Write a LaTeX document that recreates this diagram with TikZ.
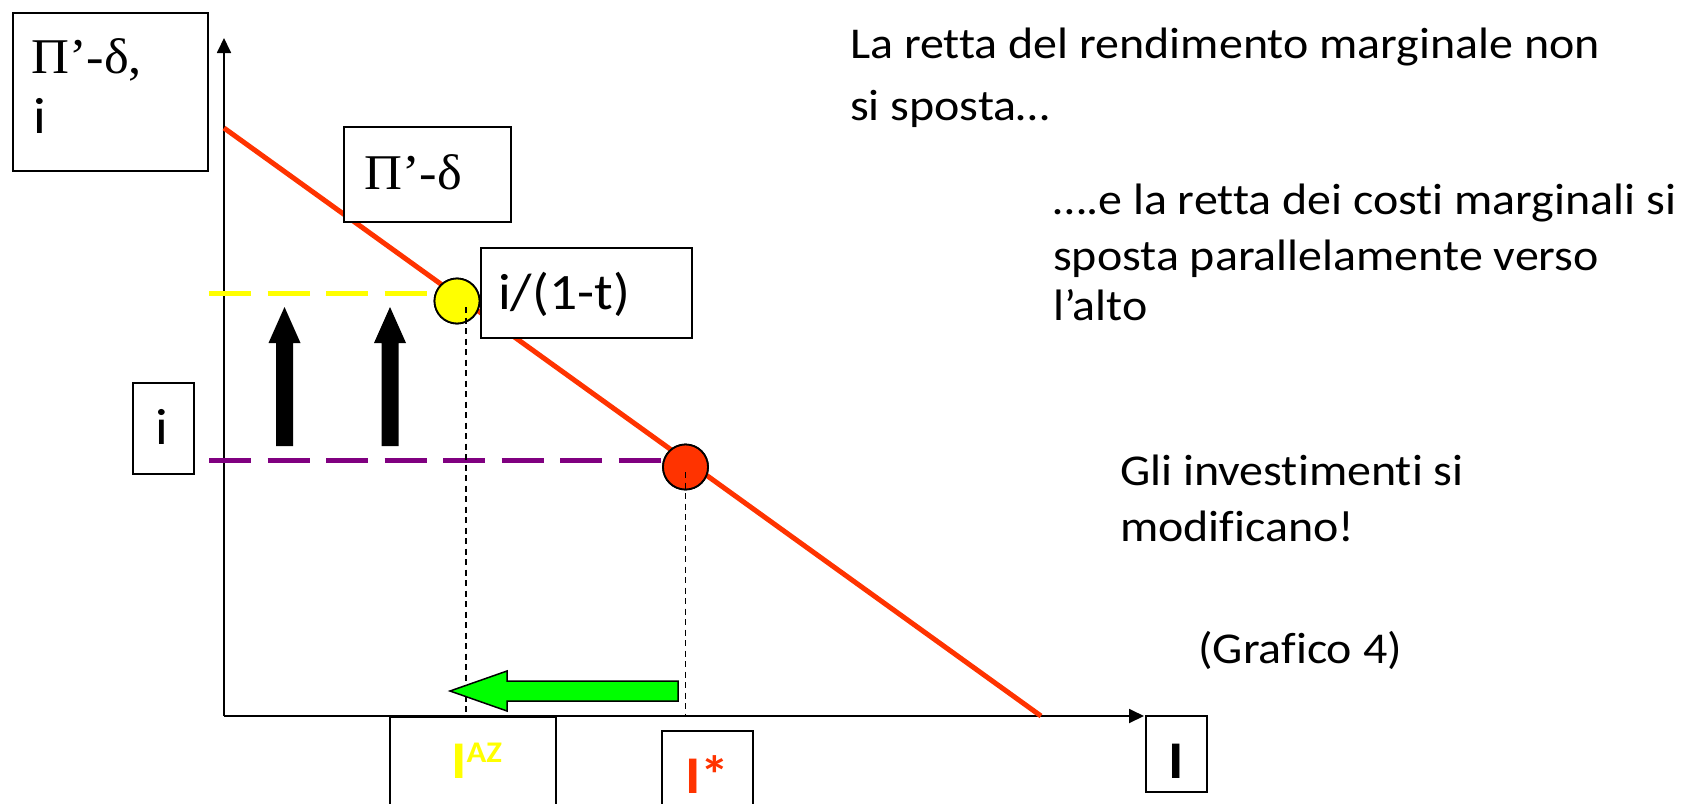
\documentclass[tikz,border=0pt]{standalone}
\usepackage{fontspec}
\setmainfont{Carlito}[FakeStretch=1.09, Ligatures=NoCommon]
\newfontfamily\tnrfont{Liberation Serif}[FakeStretch=1.05]
\usetikzlibrary{arrows.meta}
\definecolor{cred}{HTML}{FF3300}
\definecolor{cyel}{HTML}{FFFF00}
\definecolor{cpur}{HTML}{800080}
\definecolor{cgrn}{HTML}{00FF00}
\newcommand\txtR{\fontsize{44}{52}\selectfont}
\newcommand\txtL{\fontsize{51}{60}\selectfont}
\newcommand\txtG{\tnrfont\fontsize{50}{58}\selectfont}
\newcommand\txtB{\bfseries\fontsize{53}{62}\selectfont}
\begin{document}
\begin{tikzpicture}[x=1pt,y=-1pt,
  box/.style={draw=black, line width=2pt, fill=white, inner sep=0pt},
  obox/.style={draw=black, line width=2pt, inner sep=0pt},
  txt/.style={inner sep=0pt, anchor=base west},
  axis/.style={line width=1.8pt, -{Triangle[length=15pt,width=14pt]}},
  dotv/.style={line width=1.5pt, dash pattern=on 6pt off 4.5pt},
  hdash/.style={line width=5pt, dash pattern=on 42pt off 16.5pt},
  dot/.style={circle, draw=black, line width=1.8pt, minimum size=45pt, inner sep=0pt},
  blkarrow/.style={fill=black},
]
\useasboundingbox (0,0) rectangle (1697,803);
\clip (0,0) rectangle (1697,803);

% axes
\coordinate (O) at (224,716);
\coordinate (ytip) at (224,38);
\coordinate (xtip) at (1144,716);
\draw[axis] (O) -- (ytip);
\draw[axis] (O) -- (xtip);

% marginal return line
\coordinate (r1) at (224,128);
\coordinate (r2) at (1041,716);
\draw[cred, line width=5pt] (r1) -- (r2);

% circles
\node[dot, fill=cyel] (yc) at (457,301) {};
\node[dot, fill=cred] (rc) at (685.5,467) {};

% dashed horizontal lines
\coordinate (yl) at (209,293);
\coordinate (pl) at (209,460);
\draw[hdash, cyel] (yl) -- (yl -| yc.west);
\draw[hdash, cpur] (pl) -- (pl -| rc.west);
\node[dot, fill=cyel] at (yc) {};
\node[dot, fill=cred] at (rc) {};

% black up arrows
\foreach \cx in {284.5,390}{
  \fill[blkarrow] (\cx,307) -- (\cx+16,343) -- (\cx+8.5,343) -- (\cx+8.5,446)
    -- (\cx-8.5,446) -- (\cx-8.5,343) -- (\cx-16,343) -- cycle;
}

% dotted verticals
\coordinate (d1) at (466,307);
\coordinate (d2) at (685.5,472);
\draw[dotv] (d1) -- (d1 |- O);
\draw[dotv] (d2) -- (d2 |- O);

% green arrow
\draw[fill=cgrn, line width=1.5pt, line join=miter]
  (450,691) -- (507,671) -- (507,681) -- (678,681) -- (678,701)
  -- (507,701) -- (507,711) -- cycle;

% boxes
\node[box, minimum width=195pt, minimum height=158pt] (b1) at (110.5,92) {};
\node[box, minimum width=167pt, minimum height=95pt] (b2) at (427.5,174.5) {};
\node[box, minimum width=211pt, minimum height=90pt] (b3) at (586.5,293) {};
\node[box, minimum width=61pt, minimum height=91pt] (b4) at (163.5,428.5) {};
\node[obox, minimum width=166pt, minimum height=130pt] (b5) at (473,782) {};
\node[obox, minimum width=91pt, minimum height=110pt] (b6) at (707.5,786) {};
\node[box, minimum width=61pt, minimum height=76pt] (b7) at (1176.5,754) {};

% box texts
\node[txt] (t1a) at (31,73) {\txtG Π’-δ,};
\node[txt] (t1b) at (33,133) {\txtL i};
\node[txt] (t2) at (364,189) {\txtG Π’-δ};
\node[txt] (t3) at (498,309) {\txtL i/(1-t)};
\node[inner sep=0pt, anchor=base] (t4) at (162,444) {\txtL i};
\node[txt, text=cyel] (t5) at (451,778) {\txtB I\raisebox{16pt}{\fontsize{30}{32}\selectfont AZ}};
\node[txt, text=cred] (t6) at (685,793) {\txtB I*};
\node[inner sep=0pt, anchor=base] (t7) at (1176.5,778) {\txtB I};

% right-hand text
\node[txt] (r1a) at (850,58) {\txtR La retta del rendimento marginale non};
\node[txt] (r1b) at (850,120) {\txtR si sposta…};
\node[txt] (r2a) at (1053,214) {\txtR ….e la retta dei costi marginali si};
\node[txt] (r2b) at (1053,270) {\txtR sposta parallelamente verso};
\node[txt] (r2c) at (1053,320) {\txtR l’alto};
\node[txt] (r3a) at (1120,485) {\txtR Gli investimenti si};
\node[txt] (r3b) at (1120,541) {\txtR modificano!};
\node[txt] (r4) at (1198,663) {\txtR (Grafico 4)};
\end{tikzpicture}
\end{document}
